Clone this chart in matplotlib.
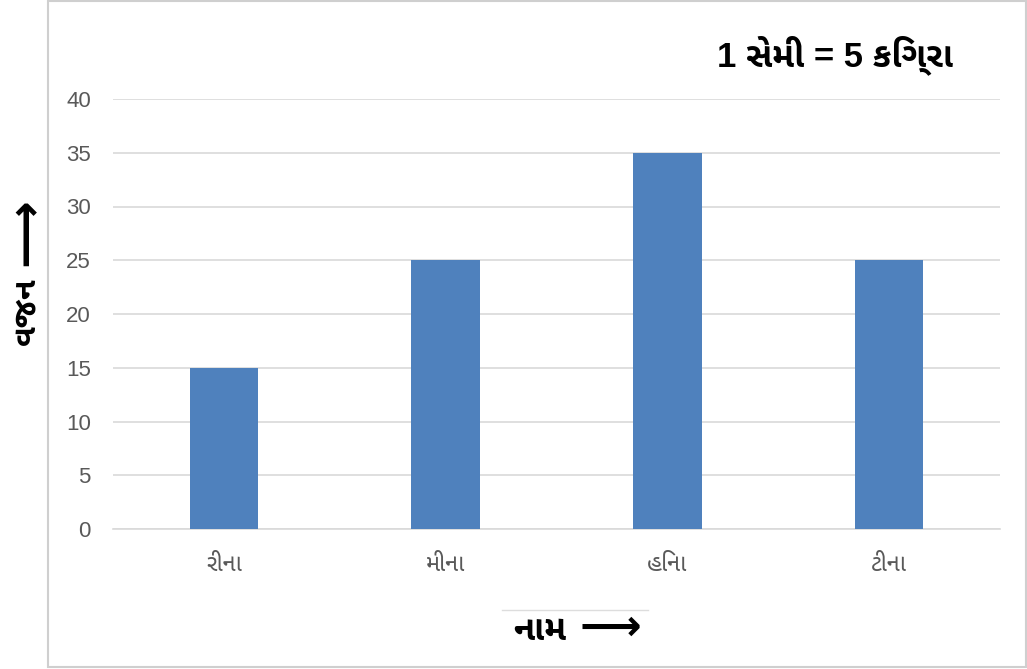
import matplotlib
matplotlib.use("Agg")
import matplotlib.pyplot as plt
from matplotlib import font_manager
from matplotlib.ft2font import FT2Font
from matplotlib.patches import Rectangle
from matplotlib.lines import Line2D

# Chart data
names = ["રીના", "મીના", "હિના", "ટીના"]
weights = [15, 25, 35, 25]
y_ticks = [0, 5, 10, 15, 20, 25, 30, 35, 40]
scale_note = "1 સેમી = 5 કિગ્રા"
x_title = "નામ"
y_title = "વજન"
arrow = "⟶"

BAR_COLOR = "#4F81BD"
GRID_COLOR = "#D9D9D9"
TICK_COLOR = "#595959"


def gujarati_families():
    """Names of installed fonts that cover Gujarati, best candidates first."""
    found = {}
    for entry in font_manager.fontManager.ttflist:
        try:
            cmap = FT2Font(entry.fname).get_charmap()
        except Exception:
            continue
        if 0x0AA8 in cmap and 0x0AC0 in cmap and 0x0AAE in cmap:
            found.setdefault(entry.name, set()).add(entry.weight)

    def rank(name):
        low = name.lower()
        score = 0
        if "mono" in low:
            score += 10
        if "serif" in low:
            score += 5
        if "gujarati" in low and "sans" in low:
            score -= 6
        elif "gujarati" in low:
            score -= 4
        if "freesans" in low:
            score -= 3
        bold = any((w if isinstance(w, int) else 400) >= 600
                   or str(w) == "bold" for w in found[name])
        if not bold:
            score += 1
        return score

    return sorted(found, key=rank)


guj = gujarati_families()
families = ["Liberation Sans", "DejaVu Sans"] + guj[:1]
plt.rcParams["font.family"] = families

W, H = 1027, 669
fig = plt.figure(figsize=(W / 100, H / 100), dpi=100)
fig.patch.set_facecolor("white")

# Outer frame of the chart area
fig.add_artist(Rectangle((48 / W, 1 - 667 / H), (1026 - 48) / W, 666 / H,
                         transform=fig.transFigure, fill=False,
                         edgecolor="#CFCFCF", linewidth=1.5))

ax = fig.add_axes([113 / W, 140 / H, (1000 - 113) / W, 430 / H])
x = list(range(len(names)))
ax.bar(x, weights, width=0.31, color=BAR_COLOR, zorder=3)

ax.set_xlim(-0.5, len(names) - 0.5)
ax.set_ylim(0, 40)
ax.set_yticks(y_ticks)
ax.set_xticks(x)
ax.set_xticklabels(names)

ax.grid(axis="y", color=GRID_COLOR, linewidth=1.2, zorder=0)
ax.set_axisbelow(True)
for side in ["top", "right", "left"]:
    ax.spines[side].set_visible(False)
ax.spines["bottom"].set_color(GRID_COLOR)
ax.spines["bottom"].set_linewidth(1.2)

ax.tick_params(axis="y", length=0, pad=16, labelsize=16, labelcolor=TICK_COLOR)
ax.tick_params(axis="x", length=0, pad=18, labelsize=17, labelcolor=TICK_COLOR)

# Scale note in the upper right corner
fig.text(835 / W, 1 - 55 / H, scale_note, ha="center", va="center",
         fontsize=25, fontweight="bold", color="black")

# Vertical axis title with an upward arrow
fig.text(27 / W, 1 - 311 / H, y_title, ha="center", va="center",
         rotation=90, fontsize=23, fontweight="bold", color="black")
fig.text(27 / W, 1 - 232 / H, arrow, ha="center", va="center",
         rotation=90, fontsize=34, fontweight="bold", color="black")

# Horizontal axis title with a right-pointing arrow
fig.text(540 / W, 1 - 631 / H, x_title, ha="center", va="center",
         fontsize=25, fontweight="bold", color="black")
fig.text(610 / W, 1 - 629 / H, arrow, ha="center", va="center",
         fontsize=31, fontweight="bold", color="black")
fig.add_artist(Line2D([502 / W, 648 / W], [1 - 610 / H, 1 - 610 / H],
                      transform=fig.transFigure, color="#DDDDDD", linewidth=1))

fig.savefig("out.png", dpi=100)
